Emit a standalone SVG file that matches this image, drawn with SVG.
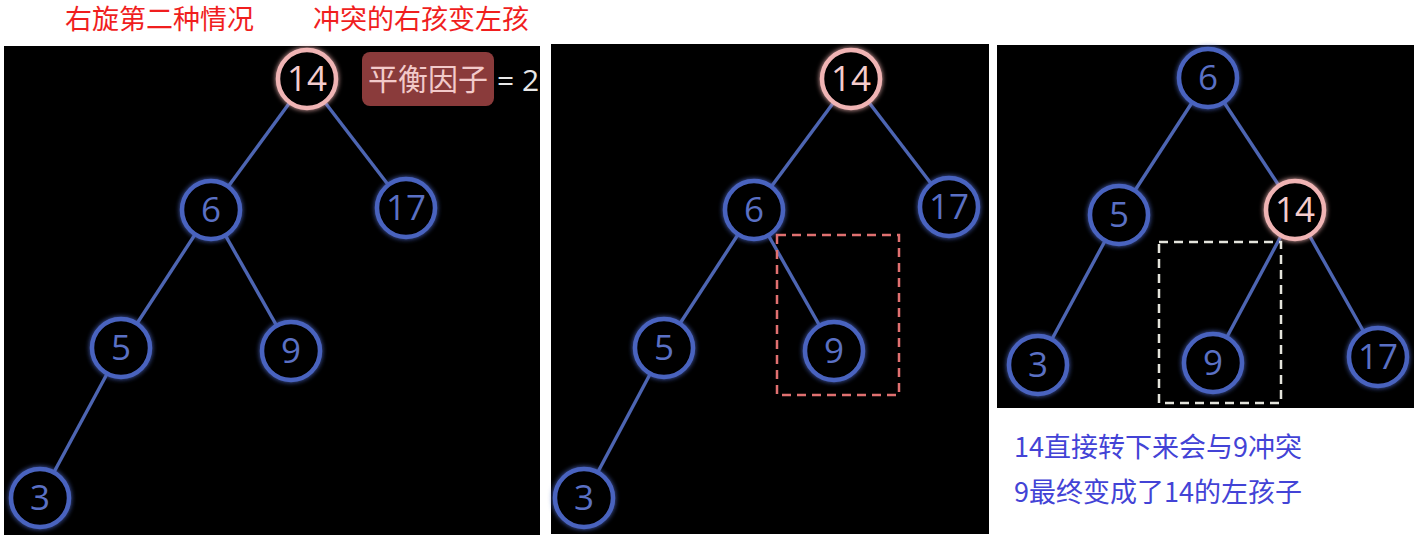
<svg xmlns="http://www.w3.org/2000/svg" width="1416" height="538" viewBox="0 0 1416 538">
<defs>
<filter id="glow" x="-40%" y="-40%" width="180%" height="180%">
<feGaussianBlur in="SourceGraphic" stdDeviation="2.4" result="b"/>
<feMerge><feMergeNode in="b"/><feMergeNode in="SourceGraphic"/></feMerge>
</filter>
<style>
.panel{fill:#000}
.edge{stroke:#4d65b2;stroke-width:3.4;fill:none}
.n circle{fill:#000;stroke:#4a63bf;stroke-width:4.5;filter:url(#glow)}
.n text{fill:#5a70c4;font-family:"Open Sans","Noto Sans",sans-serif;font-size:35px;text-anchor:middle}
.p circle{fill:#000;stroke:#f0b4b4;stroke-width:4.5;filter:url(#glow)}
.p text{fill:#f5cccc;font-family:"Open Sans","Noto Sans",sans-serif;font-size:35px;text-anchor:middle}
.red{fill:#f01e1e;font-family:"Noto Sans CJK SC",sans-serif;font-size:27px}
.blue{fill:#4343d6;font-family:"Noto Sans CJK SC",sans-serif;font-size:27px}
.dash{fill:none;stroke-width:2.5;stroke-dasharray:9 6}
</style>
</defs>
<rect width="1416" height="538" fill="#fff"/>
<text class="red" x="65" y="29">右旋第二种情况</text>
<text class="red" x="313" y="29">冲突的右孩变左孩</text>

<rect class="panel" x="4" y="46" width="536" height="489"/>
<rect class="panel" x="551" y="44" width="438" height="490"/>
<rect class="panel" x="997" y="45" width="417" height="363"/>

<g id="connectors">
<line class="edge" x1="307" y1="79" x2="211" y2="210"/>
<line class="edge" x1="307" y1="79" x2="406" y2="208"/>
<line class="edge" x1="211" y1="210" x2="121" y2="348"/>
<line class="edge" x1="211" y1="210" x2="291" y2="351"/>
<line class="edge" x1="121" y1="348" x2="40" y2="498"/>

<line class="edge" x1="851" y1="79" x2="754" y2="210"/>
<line class="edge" x1="851" y1="79" x2="949" y2="207"/>
<line class="edge" x1="754" y1="210" x2="664" y2="348"/>
<line class="edge" x1="754" y1="210" x2="834" y2="351"/>
<line class="edge" x1="664" y1="348" x2="584" y2="498"/>

<line class="edge" x1="1208" y1="78" x2="1119" y2="215"/>
<line class="edge" x1="1208" y1="78" x2="1295" y2="210"/>
<line class="edge" x1="1119" y1="215" x2="1038" y2="365"/>
<line class="edge" x1="1295" y1="210" x2="1213" y2="363"/>
<line class="edge" x1="1295" y1="210" x2="1378" y2="357"/>
</g>

<g id="badge">
<rect x="362" y="52" width="132" height="54" rx="8" fill="#8a3b3b"/>
<text x="428" y="90" text-anchor="middle" fill="#f2caca" font-family="Noto Sans CJK SC,sans-serif" font-size="30">平衡因子</text>
<text x="497" y="91" fill="#e8e8e8" font-family="Open Sans,sans-serif" font-size="30">= 2</text>
</g>

<g id="p1-n14" class="p"><circle cx="307" cy="79" r="29"/><text x="307" y="91">14</text></g>
<g id="p1-n6" class="n"><circle cx="211" cy="210" r="29"/><text x="211" y="222">6</text></g>
<g id="p1-n17" class="n"><circle cx="406" cy="208" r="29"/><text x="406" y="220">17</text></g>
<g id="p1-n5" class="n"><circle cx="121" cy="348" r="29"/><text x="121" y="360">5</text></g>
<g id="p1-n9" class="n"><circle cx="291" cy="351" r="29"/><text x="291" y="363">9</text></g>
<g id="p1-n3" class="n"><circle cx="40" cy="498" r="29"/><text x="40" y="510">3</text></g>

<g id="p2-n14" class="p"><circle cx="851" cy="79" r="29"/><text x="851" y="91">14</text></g>
<g id="p2-n6" class="n"><circle cx="754" cy="210" r="29"/><text x="754" y="222">6</text></g>
<g id="p2-n17" class="n"><circle cx="949" cy="207" r="29"/><text x="949" y="219">17</text></g>
<g id="p2-n5" class="n"><circle cx="664" cy="348" r="29"/><text x="664" y="360">5</text></g>
<g id="p2-n9" class="n"><circle cx="834" cy="351" r="29"/><text x="834" y="363">9</text></g>
<g id="p2-n3" class="n"><circle cx="584" cy="498" r="29"/><text x="584" y="510">3</text></g>
<rect id="p2-box" class="dash" x="777" y="235" width="122" height="160" stroke="#e07070"/>

<g id="p3-n6" class="n"><circle cx="1208" cy="78" r="29"/><text x="1208" y="90">6</text></g>
<g id="p3-n5" class="n"><circle cx="1119" cy="215" r="29"/><text x="1119" y="227">5</text></g>
<g id="p3-n14" class="p"><circle cx="1295" cy="210" r="29"/><text x="1295" y="222">14</text></g>
<g id="p3-n3" class="n"><circle cx="1038" cy="365" r="29"/><text x="1038" y="377">3</text></g>
<g id="p3-n9" class="n"><circle cx="1213" cy="363" r="29"/><text x="1213" y="375">9</text></g>
<g id="p3-n17" class="n"><circle cx="1378" cy="357" r="29"/><text x="1378" y="369">17</text></g>
<rect id="p3-box" class="dash" x="1159" y="242" width="122" height="161" stroke="#e4e4dc"/>

<text class="blue" x="1014" y="457">14直接转下来会与9冲突</text>
<text class="blue" x="1014" y="502">9最终变成了14的左孩子</text>
</svg>
